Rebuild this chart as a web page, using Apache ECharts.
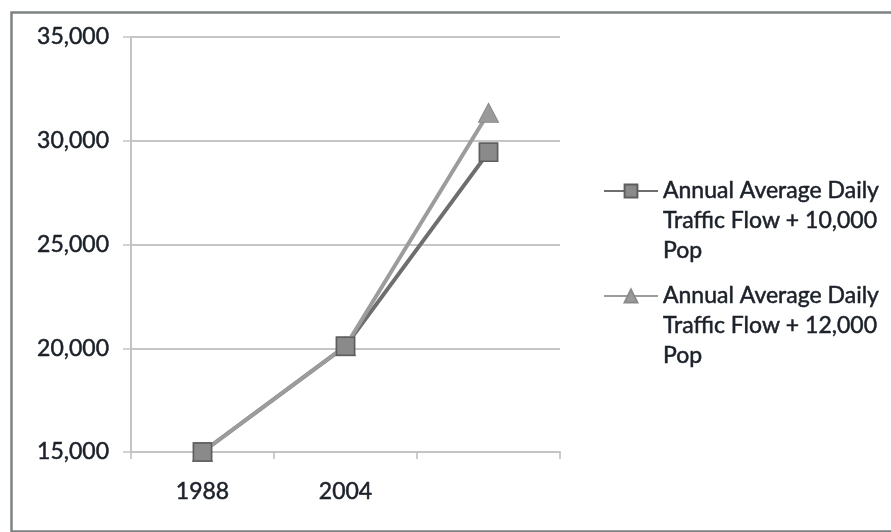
<!DOCTYPE html>
<html>
<head>
<meta charset="utf-8">
<script src="https://cdn.jsdelivr.net/npm/echarts@6/dist/echarts.min.js"></script>
<style>
  html, body { margin: 0; padding: 0; background: #ffffff; }
  #chart { width: 891px; height: 532px; }
</style>
</head>
<body>
<div id="chart"></div>
<script>
// Traffic flow projections (annual average daily traffic)
const years = ['1988', '2004', ''];
const flow10k = [15000, 20100, 29450];
const flow12k = [15000, 20100, 31350];
const seriesNames = [
  'Annual Average Daily Traffic Flow + 10,000 Pop',
  'Annual Average Daily Traffic Flow + 12,000 Pop'
];
const yTicks = { min: 15000, max: 35000, step: 5000 };

const FONT = 'Lato';
const TEXT = '#1b2029';
// a hairline outline of the glyphs gives the labels a little more weight
const textWeight = { textBorderColor: TEXT, textBorderWidth: 0.5 };

const chart = echarts.init(document.getElementById('chart'), null, { renderer: 'canvas' });

// wrap the long legend names onto three lines; two leading blank lines keep
// the first line level with the legend icon
function wrapName(name) {
  return '\n\n' + name.replace(' Traffic', '\nTraffic').replace(' Pop', '\nPop');
}

function legendAt(name, top) {
  return {
    data: [name],
    orient: 'vertical',
    left: 598,
    top: top,
    itemWidth: 54,
    itemHeight: 16,
    selectedMode: false,
    formatter: wrapName,
    textStyle: Object.assign({
      fontFamily: FONT,
      fontSize: 23,
      lineHeight: 30,
      color: TEXT
    }, textWeight)
  };
}

const squareMarker = {
  symbol: 'rect',
  symbolSize: 18,
  itemStyle: { color: '#8a8a8a', borderColor: '#5e5e5e', borderWidth: 1.5 }
};

chart.setOption({
  animation: false,
  backgroundColor: '#ffffff',
  graphic: [{
    type: 'rect',
    left: 9,
    top: 10,
    shape: { width: 900, height: 519 },
    style: { fill: 'none', stroke: '#7d8282', lineWidth: 2.5 },
    z: -1
  }],
  legend: [legendAt(seriesNames[0], 111), legendAt(seriesNames[1], 216)],
  grid: { left: 131, right: 331, top: 37, bottom: 80 },
  xAxis: {
    type: 'category',
    data: years,
    boundaryGap: true,
    axisLine: { lineStyle: { color: '#c4c4c4', width: 2 } },
    axisTick: { show: true, length: 7, lineStyle: { color: '#bdbdbd', width: 1.5 } },
    axisLabel: Object.assign({ fontFamily: FONT, fontSize: 23, color: TEXT, margin: 28 }, textWeight),
    splitLine: { show: false }
  },
  yAxis: {
    type: 'value',
    min: yTicks.min,
    max: yTicks.max,
    interval: yTicks.step,
    axisLine: { show: true, lineStyle: { color: '#c4c4c4', width: 2 } },
    axisTick: { show: true, length: 8, lineStyle: { color: '#c4c4c4', width: 1.5 } },
    axisLabel: Object.assign({
      fontFamily: FONT, fontSize: 23, color: TEXT, margin: 22,
      formatter: v => v.toLocaleString('en-US')
    }, textWeight),
    splitLine: { lineStyle: { color: '#c6c6c6', width: 2 } }
  },
  series: [
    Object.assign({
      name: seriesNames[0],
      type: 'line',
      data: flow10k,
      lineStyle: { color: '#6e6e6e', width: 4 },
      z: 2
    }, squareMarker),
    {
      name: seriesNames[1],
      type: 'line',
      data: flow12k,
      symbol: 'triangle',
      symbolSize: [20, 19],
      lineStyle: { color: '#9c9c9c', width: 4 },
      itemStyle: { color: '#9a9a9a', borderColor: '#8a8a8a', borderWidth: 1 },
      z: 3
    },
    // square markers redrawn above the lighter line
    Object.assign({
      name: 'flow10k-markers',
      type: 'line',
      data: flow10k,
      lineStyle: { width: 0, opacity: 0 },
      z: 4
    }, squareMarker)
  ]
});
</script>
</body>
</html>
